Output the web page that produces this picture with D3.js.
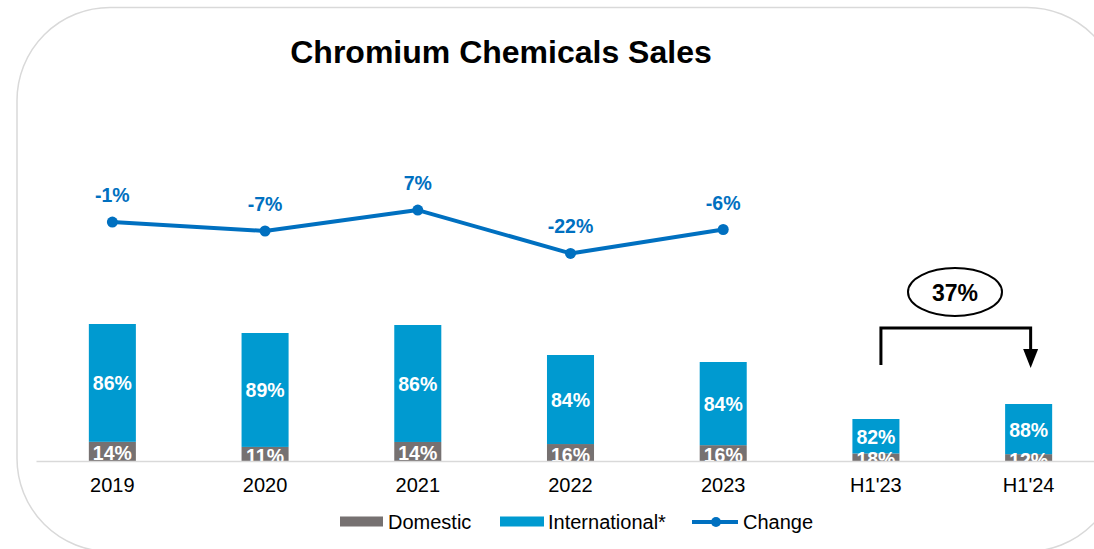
<!DOCTYPE html>
<html>
<head>
<meta charset="utf-8">
<script src="https://cdn.jsdelivr.net/npm/d3@7"></script>
<style>
  html, body { margin: 0; padding: 0; background: #ffffff; }
  svg { display: block; font-family: "Liberation Sans", Arial, sans-serif; }
</style>
</head>
<body>
<svg id="chart" width="1094" height="549"></svg>
<script>
// ---- data ----
const categories = ["2019", "2020", "2021", "2022", "2023", "H1'23", "H1'24"];
const totalSales = [137, 128, 136, 106, 99, 42, 57];          // relative sales volume (bar height)
const domesticShare = [14, 11, 14, 16, 16, 18, 12];
const internationalShare = [86, 89, 86, 84, 84, 82, 88];
const changeCategories = ["2019", "2020", "2021", "2022", "2023"];
const changeValues = [-1, -7, 7, -22, -6];
const periodChangeLabel = "37%";
const titleText = "Chromium Chemicals Sales";
const legendLabels = ["Domestic", "International*", "Change"];

// ---- styles ----
const colDomestic = "#767171";
const colIntl = "#009AD0";
const colLine = "#0070C0";

const svg = d3.select("#chart");

// rounded frame
svg.append("rect")
  .attr("x", 17).attr("y", 7.5).attr("width", 1103).attr("height", 544)
  .attr("rx", 93).attr("ry", 93)
  .attr("fill", "none").attr("stroke", "#d9d9d9").attr("stroke-width", 1.5);

// title
svg.append("text")
  .attr("x", 501).attr("y", 63)
  .attr("text-anchor", "middle")
  .attr("font-size", 32).attr("font-weight", "bold").attr("fill", "#000")
  .text(titleText);

// scales
const x = d3.scaleBand().domain(categories).range([36, 1105])
  .paddingInner(0.692).paddingOuter(0.346);
const baseY = 461;
const y = d3.scaleLinear().domain([0, 137]).range([baseY, 324]);
const yLine = d3.scaleLinear().domain([-22, 7]).range([253.4, 210.1]);

const rows = categories.map((c, i) => ({
  cat: c,
  dom: totalSales[i] * domesticShare[i] / 100,
  intl: totalSales[i] * internationalShare[i] / 100,
  domLabel: domesticShare[i] + "%",
  intlLabel: internationalShare[i] + "%"
}));

// clip for labels below axis
svg.append("defs").append("clipPath").attr("id", "plotclip")
  .append("rect").attr("x", 0).attr("y", 0).attr("width", 1094).attr("height", baseY);

const bars = svg.append("g");
bars.selectAll("rect.dom").data(rows).enter().append("rect")
  .attr("class", "dom")
  .attr("x", d => x(d.cat)).attr("width", x.bandwidth())
  .attr("y", d => y(d.dom)).attr("height", d => baseY - y(d.dom))
  .attr("fill", colDomestic);
bars.selectAll("rect.intl").data(rows).enter().append("rect")
  .attr("class", "intl")
  .attr("x", d => x(d.cat)).attr("width", x.bandwidth())
  .attr("y", d => y(d.dom + d.intl)).attr("height", d => y(d.dom) - y(d.dom + d.intl))
  .attr("fill", colIntl);

const labels = svg.append("g").attr("clip-path", "url(#plotclip)")
  .attr("font-size", 19.5).attr("font-weight", "bold").attr("fill", "#fff")
  .attr("text-anchor", "middle");
labels.selectAll("text.il").data(rows).enter().append("text")
  .attr("x", d => x(d.cat) + x.bandwidth() / 2)
  .attr("y", d => (y(d.dom) + y(d.dom + d.intl)) / 2 + 7.5)
  .text(d => d.intlLabel);
labels.selectAll("text.dl").data(rows).enter().append("text")
  .attr("x", d => x(d.cat) + x.bandwidth() / 2)
  .attr("y", d => (baseY + y(d.dom)) / 2 + 9)
  .text(d => d.domLabel);

// x axis
const axis = svg.append("g").attr("transform", `translate(0,${baseY})`)
  .call(d3.axisBottom(x).tickSize(0).tickSizeOuter(0).tickPadding(17));
axis.select(".domain").attr("stroke", "#d9d9d9").attr("stroke-width", 1.5);
axis.selectAll("text")
  .attr("font-family", "Liberation Sans, Arial, sans-serif")
  .attr("font-size", 20).attr("fill", "#000");

// change line
const cx = c => x(c) + x.bandwidth() / 2;
const linePts = changeCategories.map((c, i) => ({ c, v: changeValues[i] }));
svg.append("path").datum(linePts)
  .attr("d", d3.line().x(d => cx(d.c)).y(d => yLine(d.v)))
  .attr("fill", "none").attr("stroke", colLine).attr("stroke-width", 4)
  .attr("stroke-linejoin", "round");
svg.selectAll("circle.pt").data(linePts).enter().append("circle")
  .attr("cx", d => cx(d.c)).attr("cy", d => yLine(d.v)).attr("r", 5.5)
  .attr("fill", colLine);
svg.selectAll("text.cl").data(linePts).enter().append("text")
  .attr("x", d => cx(d.c)).attr("y", d => yLine(d.v) - 20)
  .attr("text-anchor", "middle").attr("font-size", 19.5).attr("font-weight", "bold")
  .attr("fill", colLine)
  .text(d => d.v + "%");

// bracket annotation H1'23 -> H1'24
const bx1 = cx("H1'23") + 5, bx2 = cx("H1'24") + 2;
const bTop = 328;
svg.append("path")
  .attr("d", `M${bx1},365 L${bx1},${bTop} L${bx2},${bTop} L${bx2},350`)
  .attr("fill", "none").attr("stroke", "#000").attr("stroke-width", 3)
  .attr("stroke-linejoin", "miter");
svg.append("path")
  .attr("d", `M${bx2 - 7.5},349 L${bx2 + 7.5},349 L${bx2},368 Z`)
  .attr("fill", "#000");
svg.append("ellipse")
  .attr("cx", 955).attr("cy", 292).attr("rx", 47).attr("ry", 24)
  .attr("fill", "#fff").attr("stroke", "#000").attr("stroke-width", 2);
svg.append("text")
  .attr("x", 955).attr("y", 300.5).attr("text-anchor", "middle")
  .attr("font-size", 23).attr("font-weight", "bold").attr("fill", "#000")
  .text(periodChangeLabel);

// legend
const lg = svg.append("g").attr("font-size", 20).attr("fill", "#000");
lg.append("rect").attr("x", 340).attr("y", 516.5).attr("width", 43).attr("height", 10).attr("fill", colDomestic);
lg.append("text").attr("x", 388).attr("y", 529).text(legendLabels[0]);
lg.append("rect").attr("x", 500).attr("y", 516.5).attr("width", 44).attr("height", 10).attr("fill", colIntl);
lg.append("text").attr("x", 548).attr("y", 529).text(legendLabels[1]);
lg.append("line").attr("x1", 692).attr("x2", 738).attr("y1", 522).attr("y2", 522)
  .attr("stroke", colLine).attr("stroke-width", 4);
lg.append("circle").attr("cx", 716).attr("cy", 522).attr("r", 5).attr("fill", colLine);
lg.append("text").attr("x", 743).attr("y", 529).text(legendLabels[2]);
</script>
</body>
</html>
